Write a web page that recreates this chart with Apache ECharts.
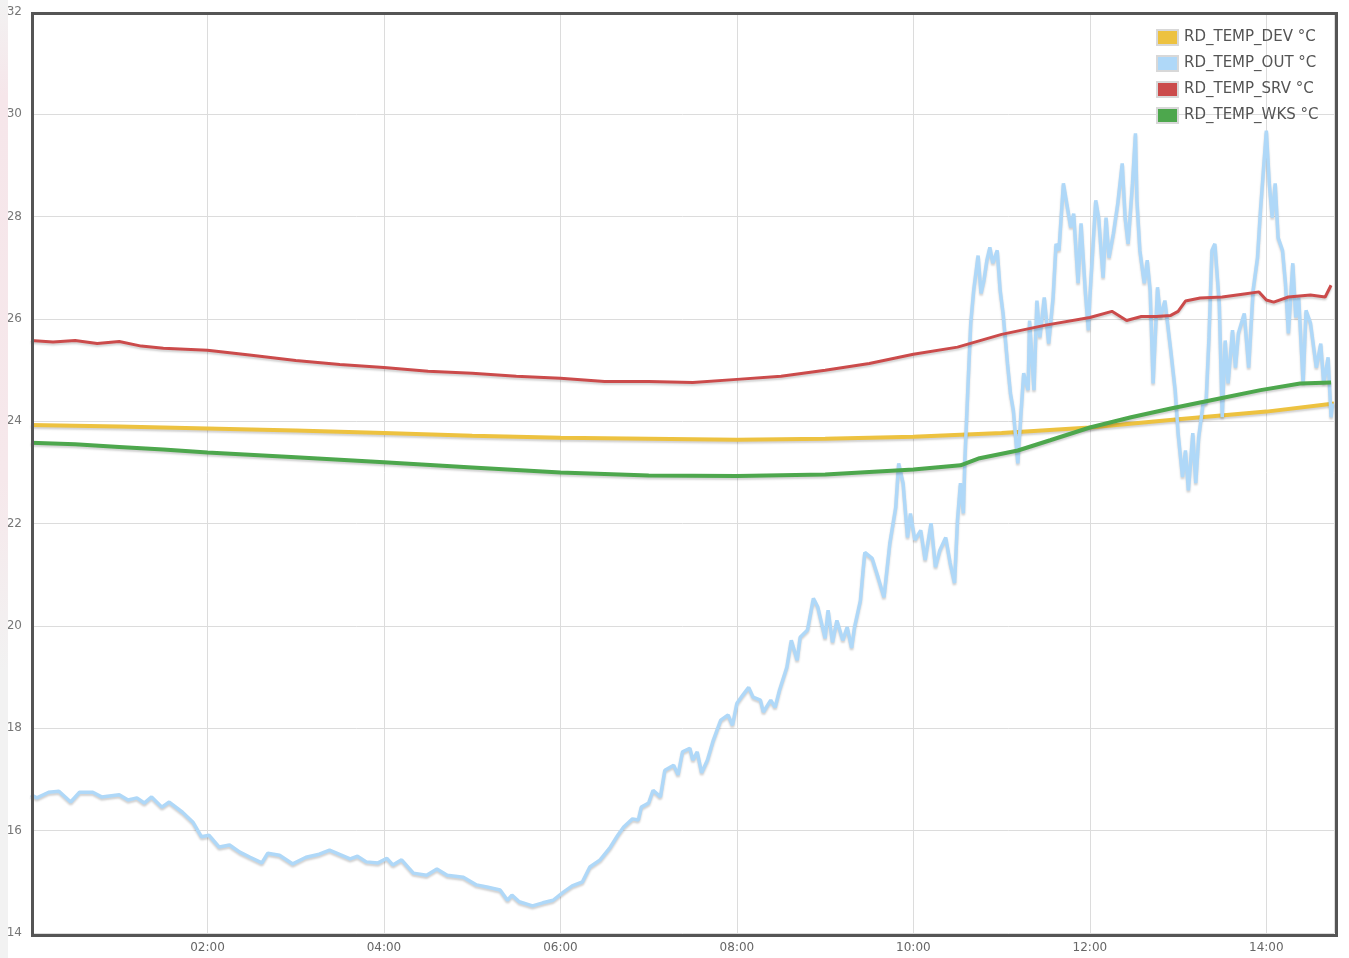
<!DOCTYPE html>
<html>
<head>
<meta charset="utf-8">
<script src="https://cdn.jsdelivr.net/npm/echarts@6/dist/echarts.min.js"></script>
<style>
html,body{margin:0;padding:0;background:#fff;}
#chart{width:1349px;height:958px;}
</style>
</head>
<body>
<div id="chart"></div>
<script>
// time in minutes since 00:00
var seriesNames = ['RD_TEMP_DEV °C', 'RD_TEMP_OUT °C', 'RD_TEMP_SRV °C', 'RD_TEMP_WKS °C'];
var xTickLabels = ['02:00', '04:00', '06:00', '08:00', '10:00', '12:00', '14:00'];
var yTicks = [14, 16, 18, 20, 22, 24, 26, 28, 30, 32];

var devTimes = [0, 60, 120, 180, 240, 300, 360, 420, 480, 540, 600, 660, 720, 780, 840, 886];
var devValues = [23.93, 23.9, 23.86, 23.82, 23.77, 23.72, 23.68, 23.66, 23.64, 23.66, 23.70, 23.77, 23.88, 24.04, 24.19, 24.35];

var srvTimes = [0, 15, 30, 45, 60, 75, 90, 105, 120, 150, 180, 210, 240, 270, 300, 330, 360, 390, 420, 450, 480, 510, 540, 570, 600, 630, 660, 690, 720, 735, 745, 755, 765, 775, 780, 785, 795, 810, 825, 835, 840, 845, 855, 870, 880, 884];
var srvValues = [25.58, 25.55, 25.58, 25.52, 25.56, 25.47, 25.43, 25.41, 25.39, 25.29, 25.19, 25.11, 25.05, 24.98, 24.94, 24.88, 24.84, 24.78, 24.78, 24.76, 24.82, 24.88, 25.0, 25.13, 25.31, 25.45, 25.70, 25.88, 26.03, 26.15, 25.97, 26.05, 26.05, 26.07, 26.15, 26.35, 26.41, 26.43, 26.49, 26.53, 26.37, 26.33, 26.43, 26.47, 26.43, 26.66];

var wksTimes = [0, 30, 60, 90, 120, 180, 240, 300, 360, 420, 480, 540, 600, 632, 645, 671, 693, 720, 748, 775, 809, 836, 863, 884];
var wksValues = [23.58, 23.55, 23.5, 23.45, 23.39, 23.30, 23.20, 23.10, 23.00, 22.94, 22.93, 22.96, 23.06, 23.14, 23.28, 23.43, 23.63, 23.88, 24.08, 24.25, 24.45, 24.61, 24.74, 24.76];

var outTimes = [0,1,4,12,19,27,33,42,48,60,66,72,77,82,89,94,103,110,116,121,128,135,142,149,157,161,169,178,187,196,203,217,222,228,236,242,246,252,260,269,276,283,294,303,310,319,324,327,332,341,348,355,362,368,375,380,387,394,399,403,409,413,415,420,423,428,431,437,440,443,448,450,453,456,460,464,469,474,477,480,484,488,491,496,498,503,506,509,514,517,521,523,528,532,535,540,542,545,548,552,555,558,560,564,566,567,572,576,580,584,588,590,593,596,598,601,605,608,612,615,618,622,625,628,630,632,634,635,637,639,641,644,646,648,650,652,654,657,659,661,664,666,668,671,673,675,678,679,682,684,686,689,692,695,697,699,702,707,709,712,714,717,719,720,724,726,729,731,733,736,739,742,744,746,749,751,752,754,757,759,761,763,766,768,771,775,778,780,783,785,787,790,792,794,797,799,801,803,805,808,810,812,814,817,819,821,825,828,831,834,836,838,840,842,844,846,848,851,853,855,858,860,862,865,867,870,874,877,879,882,884,885];
var outValues = [16.7,16.73,16.64,16.75,16.77,16.56,16.75,16.75,16.66,16.70,16.60,16.64,16.54,16.66,16.46,16.56,16.36,16.17,15.88,15.91,15.68,15.72,15.58,15.48,15.37,15.56,15.52,15.35,15.48,15.54,15.62,15.45,15.50,15.39,15.37,15.46,15.33,15.43,15.17,15.13,15.25,15.13,15.09,14.94,14.90,14.84,14.64,14.74,14.61,14.53,14.59,14.64,14.80,14.92,15.0,15.29,15.43,15.68,15.91,16.07,16.23,16.21,16.46,16.54,16.79,16.66,17.18,17.28,17.09,17.54,17.61,17.38,17.54,17.13,17.38,17.77,18.16,18.26,18.06,18.49,18.65,18.80,18.61,18.55,18.32,18.55,18.41,18.75,19.20,19.72,19.33,19.78,19.92,20.54,20.37,19.76,20.31,19.68,20.11,19.72,19.98,19.57,19.98,20.50,21.15,21.44,21.32,20.95,20.56,21.62,22.32,23.18,22.79,21.73,22.20,21.68,21.87,21.29,22.01,21.15,21.48,21.73,21.23,20.84,22.07,22.79,22.20,23.24,24.61,25.92,26.56,27.24,26.50,26.76,27.15,27.40,27.09,27.34,26.56,26.11,25.13,24.55,24.21,23.18,24.08,24.94,24.61,25.97,24.61,26.36,25.64,26.42,25.52,26.42,27.47,27.34,28.65,27.79,28.06,26.70,27.87,26.50,25.78,26.42,28.32,27.98,26.81,27.98,27.20,27.67,28.26,29.04,27.98,27.47,28.65,29.63,28.32,27.34,26.70,27.15,26.56,24.74,26.62,26.03,26.36,25.39,24.61,23.77,22.91,23.43,22.65,23.77,22.79,23.69,24.35,24.35,25.64,27.34,27.47,26.30,24.08,25.58,24.74,25.78,25.05,25.72,26.11,25.05,26.56,27.20,28.12,28.90,29.68,28.65,27.98,28.65,27.59,27.34,26.70,25.72,27.09,26.03,26.42,24.74,26.17,25.92,25.05,25.52,24.74,25.25,24.08,24.35];

var colors = ['#edc240', '#afd8f8', '#cb4b4b', '#4da74d'];
var lineWidths = [4, 3.5, 3, 4];

function zip(t, v) { return t.map(function (x, i) { return [x, v[i]]; }); }
function fmt(m) {
  var h = Math.floor(m / 60), mm = m % 60;
  return (h < 10 ? '0' : '') + h + ':' + (mm < 10 ? '0' : '') + mm;
}

var allData = [zip(devTimes, devValues), zip(outTimes, outValues), zip(srvTimes, srvValues), zip(wksTimes, wksValues)];

var chart = echarts.init(document.getElementById('chart'));
chart.setOption({
  animation: false,
  backgroundColor: '#fff',
  color: colors,
  grid: { left: 31, right: 15, top: 12, bottom: 25, show: false },
  legend: {
    orient: 'vertical',
    left: 1151,
    top: 24,
    itemWidth: 21,
    itemHeight: 15,
    itemGap: 9,
    icon: 'rect',
    textStyle: { fontFamily: 'DejaVu Sans', fontSize: 15, color: '#545454', padding: [0, 0, 0, 1] },
    itemStyle: { borderColor: '#d8d8d8', borderWidth: 2 },
    data: seriesNames
  },
  xAxis: {
    type: 'value',
    min: 0,
    max: 886,
    interval: 120,
    axisLine: { show: false },
    axisTick: { show: false },
    splitLine: { show: true, lineStyle: { color: '#dcdcdc', width: 1 } },
    axisLabel: {
      fontFamily: 'DejaVu Sans', fontSize: 12, color: '#666', margin: 9,
      formatter: function (v) {
        var s = fmt(v);
        return xTickLabels.indexOf(s) >= 0 ? s : '';
      }
    }
  },
  yAxis: {
    type: 'value',
    min: yTicks[0],
    max: yTicks[yTicks.length - 1],
    interval: 2,
    axisLine: { show: false },
    axisTick: { show: false },
    splitLine: { show: true, lineStyle: { color: '#dcdcdc', width: 1 } },
    axisLabel: { fontFamily: 'DejaVu Sans', fontSize: 12, color: '#777', margin: 9 }
  },
  graphic: [{
    type: 'rect', left: 0, top: 0, z: 100,
    shape: { width: 8, height: 958 },
    style: {
      fill: new echarts.graphic.LinearGradient(0, 0, 0, 1, [
        { offset: 0, color: '#f2f2f2' }, { offset: 0.1, color: '#f6e6ea' },
        { offset: 0.5, color: '#f6e8eb' }, { offset: 0.7, color: '#f2f2f2' }, { offset: 1, color: '#f2f2f2' }
      ])
    }
  }, {
    type: 'rect', left: 30, top: 11, z: 100, silent: true,
    shape: { width: 1304, height: 922 },
    style: { fill: 'none', stroke: '#555', lineWidth: 3 }
  }],
  series: seriesNames.map(function (n, i) {
    return {
      name: n,
      type: 'line',
      data: allData[i],
      showSymbol: false,
      symbol: 'none',
      lineStyle: { width: lineWidths[i], color: colors[i], shadowColor: 'rgba(0,0,0,0.18)', shadowBlur: 2, shadowOffsetY: 2 },
      itemStyle: { color: colors[i] }
    };
  })
});
</script>
</body>
</html>
